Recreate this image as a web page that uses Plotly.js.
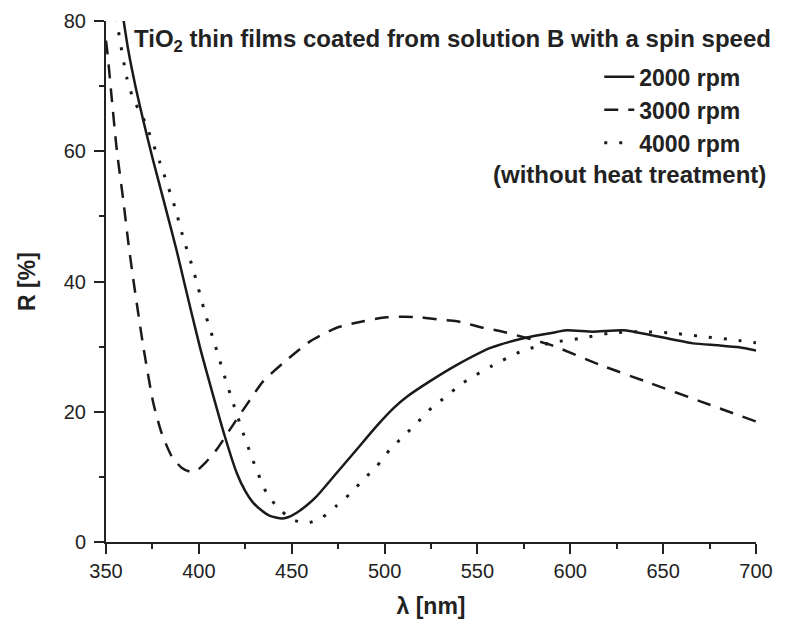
<!DOCTYPE html>
<html>
<head>
<meta charset="utf-8">
<script src="https://cdn.plot.ly/plotly-3.0.1.min.js"></script>
<style>html,body{margin:0;padding:0;background:#fff;}#chart{width:790px;height:622px;}</style>
</head>
<body>
<div id="chart"></div>
<script>
// 2000 rpm (solid)
const x2000 = [359, 362, 366, 370, 375, 381, 388, 392, 400.5, 407.8, 414, 420.4, 425, 429.3, 434, 438.3, 444.6, 448, 452.7, 458, 463.4, 474.2, 485, 495.7, 505, 512, 524.5, 539, 557, 576.5, 590, 598, 612, 628.6, 643, 666, 680, 691, 700];
const y2000 = [81, 75.5, 69.8, 64.8, 59, 52.5, 44.8, 40, 30, 22.4, 16.2, 10.6, 7.8, 6.0, 4.8, 4.0, 3.6, 3.8, 4.5, 5.6, 7.0, 10.6, 14.2, 17.8, 20.6, 22.3, 24.7, 27.2, 29.8, 31.4, 32.1, 32.5, 32.3, 32.5, 31.8, 30.5, 30.2, 29.9, 29.4];
// 3000 rpm (dashed)
const x3000 = [350, 351, 353, 355.8, 359.3, 362, 364.7, 370.1, 375.5, 380, 385.3, 390.7, 395.2, 399, 403.3, 409.6, 416.8, 425.8, 434.7, 445.5, 459.9, 474.2, 488.6, 501, 510, 520, 528, 539, 553, 562, 589, 616, 643, 670, 700];
const y3000 = [77, 74.5, 68.4, 60.2, 52.5, 46, 40.3, 30, 21.3, 16.7, 13.2, 11.4, 10.8, 11, 12.1, 14.2, 17.3, 21.1, 24.7, 27.5, 30.8, 32.9, 33.9, 34.5, 34.6, 34.5, 34.2, 33.9, 32.9, 32.4, 30.3, 27.2, 24.4, 21.6, 18.5];
// 4000 rpm (dotted)
const x4000 = [355.5, 356.6, 361.1, 365, 370.1, 379.1, 387.2, 391.6, 397, 403.3, 408.7, 413.2, 418.5, 423.9, 429.3, 436.5, 442.8, 450, 458, 466.1, 474.2, 481.4, 488.6, 495.7, 502.9, 510.1, 518.2, 525.3, 533.4, 541.5, 549.5, 557.6, 573.8, 590, 606.1, 622.3, 637.5, 653.7, 669.9, 686, 700];
const y4000 = [80.5, 78.6, 71.4, 67.8, 65.1, 58.2, 51.3, 46.7, 41.8, 35.2, 30.3, 26, 21.3, 16.7, 12.4, 7.5, 5.2, 3.5, 2.9, 3.7, 5.6, 7.4, 9.6, 11.6, 14.2, 16.2, 18.5, 20.6, 22.4, 24.3, 25.7, 27, 29.3, 30.6, 31.3, 32.1, 32.3, 32.1, 31.6, 31.1, 30.6];

const seriesNames = ['2000 rpm', '3000 rpm', '4000 rpm'];
const titleText = 'TiO<sub>2</sub> thin films coated from solution B with a spin speed';
const noteText = '(without heat treatment)';
const xTitle = 'λ [nm]';
const yTitle = 'R [%]';

const fam = '"Liberation Sans", Arial, sans-serif';
const ink = '#1a1a1a';

const traces = [
  {x: x2000, y: y2000, name: seriesNames[0], mode: 'lines', line: {color: ink, width: 2.5, shape: 'spline', smoothing: 0.6}},
  {x: x3000, y: y3000, name: seriesNames[1], mode: 'lines', line: {color: ink, width: 2.5, dash: '14px,10px', shape: 'spline', smoothing: 0.6}},
  {x: x4000, y: y4000, name: seriesNames[2], mode: 'lines', line: {color: ink, width: 3, dash: '3px,12px', shape: 'spline', smoothing: 0.6}}
];

const layout = {
  width: 790, height: 622,
  margin: {l: 106, r: 34, t: 21, b: 80},
  paper_bgcolor: '#fff', plot_bgcolor: '#fff',
  font: {family: fam, color: '#222'},
  showlegend: true,
  legend: {
    x: 0.985, xanchor: 'right', y: 0.934, yanchor: 'top',
    bgcolor: 'rgba(0,0,0,0)', borderwidth: 0,
    font: {family: fam, size: 23, weight: 'bold', color: '#222'},
    tracegroupgap: 0
  },
  xaxis: {
    range: [350, 700], dtick: 50, tick0: 350,
    showgrid: false, zeroline: false,
    showline: true, linecolor: '#222', linewidth: 2,
    ticks: 'outside', ticklen: 10, tickwidth: 2, tickcolor: '#222',
    minor: {dtick: 25, ticks: 'outside', ticklen: 5, tickwidth: 2, tickcolor: '#222', showgrid: false},
    tickfont: {family: fam, size: 20, color: '#222'},
    ticklabelstandoff: 0,
    title: {text: xTitle, standoff: 17, font: {family: fam, size: 23, weight: 'bold', color: '#222'}}
  },
  yaxis: {
    range: [0, 80], dtick: 20, tick0: 0,
    showgrid: false, zeroline: false,
    showline: true, linecolor: '#222', linewidth: 2,
    ticks: 'outside', ticklen: 10, tickwidth: 2, tickcolor: '#222',
    minor: {dtick: 10, ticks: 'outside', ticklen: 5, tickwidth: 2, tickcolor: '#222', showgrid: false},
    tickfont: {family: fam, size: 20, color: '#222'},
    ticklabelstandoff: 4,
    title: {text: yTitle, standoff: 22, font: {family: fam, size: 23, weight: 'bold', color: '#222'}}
  },
  annotations: [
    {text: titleText, xref: 'paper', yref: 'paper', x: 0.04, y: 0.962, xanchor: 'left', yanchor: 'middle', showarrow: false,
     font: {family: fam, size: 24, weight: 'bold', color: '#222'}},
    {text: noteText, xref: 'paper', yref: 'paper', x: 1.018, y: 0.705, xanchor: 'right', yanchor: 'middle', showarrow: false,
     font: {family: fam, size: 24, weight: 'bold', color: '#222'}}
  ]
};

Plotly.newPlot('chart', traces, layout, {displayModeBar: false, staticPlot: true});
</script>
</body>
</html>
